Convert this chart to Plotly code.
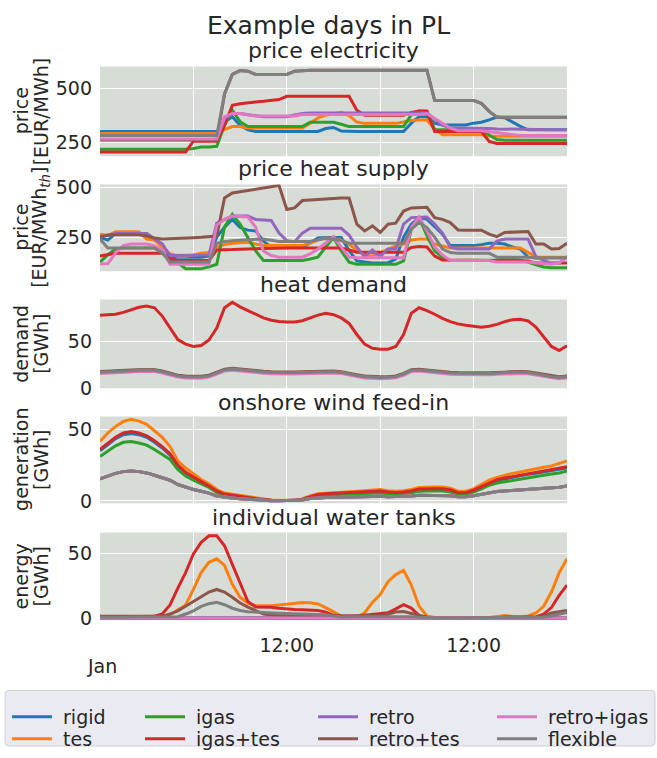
import pandas as pd
import plotly.graph_objects as go

# ---------------------------------------------------------------- time axis
hours = pd.date_range("2013-01-09 12:00", periods=61, freq="h")
noon_ticks = [hours[24], hours[48]]
noon_text = ["12:00", "12:00"]
midnight_ticks = [hours[12], hours[36]]

scenarios = ["rigid", "tes", "igas", "igas+tes", "retro", "retro+tes", "retro+igas", "flexible"]
colors = ["#1f77b4", "#ff7f0e", "#2ca02c", "#d62728", "#9467bd", "#8c564b", "#e377c2", "#7f7f7f"]

# ---------------------------------------------------------------- price electricity [EUR/MWh]
elec_rigid = [301]*16 + [345, 370, 330, 309] + [301]*9 + [315, 320, 303] + [301]*8 + [340, 370, 370, 340, 331, 331, 331, 331, 340, 344, 355, 368, 365, 345, 325, 309, 309, 309, 309, 309, 309]
elec_tes = [292]*16 + [310, 324, 324, 317] + [317]*7 + [340, 365, 377, 385, 390, 375, 345, 339, 339, 339, 339, 339, 345, 352, 355, 355, 310, 286, 286, 286, 286, 286, 286, 280, 279, 279, 279, 279, 279, 279, 279, 279, 279, 279]
elec_igas = [218]*12 + [222, 229, 229, 232, 330, 400, 347, 324] + [324]*7 + [344, 344, 344, 344, 335] + [324]*8 + [380, 397, 397, 309, 309, 309, 309, 309, 309, 309, 285, 264, 260, 260, 260, 260, 260, 260, 260, 260, 260]
elec_igas_tes = [206]*12 + [256, 256, 256, 256, 330, 423, 430, 436, 439, 442, 445, 450] + [465]*9 + [400, 377, 377, 377, 377, 377, 377, 390, 397, 395, 301, 301, 301, 301, 301, 301, 301, 255, 245, 245, 245, 245, 245, 245, 245, 245, 245, 245]
elec_retro = [264]*16 + [360, 385, 385, 380, 373, 370, 370, 370, 370, 378, 385] + [387]*16 + [360, 330, 317, 317, 317, 317, 317, 315, 313, 312, 311, 310, 309, 309, 309, 309, 309, 309]
elec_retro_tes = [262]*16 + [476, 567, 585, 582, 567, 567, 567, 567, 567, 582, 586] + [587]*16 + [445]*6 + [432, 395, 368, 367, 367, 367, 367, 367, 367, 367, 367, 367]
elec_retro_igas = [266]*16 + [370, 385, 385, 378, 373, 373, 373, 373, 373, 373, 380] + [380]*15 + [385, 360, 339, 317, 305, 305, 305, 305, 300, 295, 290, 286, 283, 282, 282, 282, 282, 282, 282]
elec_flexible = [282]*16 + [476, 567, 585, 582, 567, 567, 567, 567, 567, 582, 586] + [587]*16 + [445]*6 + [432, 395, 368, 367, 367, 367, 367, 367, 367, 367, 367, 367]

# ---------------------------------------------------------------- price heat supply [EUR/MWh_th]
heat_rigid = [248, 235, 268, 268, 268, 268, 268, 240, 215, 149, 149, 149, 149, 149, 155, 250, 300, 339, 298, 285, 281, 230, 199, 199, 199, 199, 199, 220, 245, 248, 248, 248, 182, 130, 124, 120, 120, 120, 140, 250, 315, 348, 340, 300, 265, 207, 207, 207, 207, 212, 219, 219, 215, 200, 190, 149, 146, 146, 146, 146, 146]
heat_tes = [265, 258, 277, 277, 277, 277, 240, 235, 200, 166, 154, 154, 160, 169, 172, 200, 212, 219, 222, 224, 215, 207, 207, 207, 207, 207, 207, 220, 235, 245, 243, 235, 215, 182, 160, 154, 172, 190, 205, 215, 235, 240, 240, 215, 205, 195, 195, 195, 195, 195, 195, 195, 195, 195, 195, 174, 149, 149, 149, 149, 149]
heat_igas = [124, 160, 190, 195, 195, 195, 195, 195, 170, 137, 120, 91, 91, 91, 100, 113, 300, 364, 315, 250, 180, 132, 132, 132, 132, 132, 132, 140, 149, 200, 248, 180, 124, 113, 113, 113, 113, 113, 113, 130, 290, 348, 257, 180, 149, 132, 132, 132, 132, 132, 132, 135, 138, 141, 133, 124, 110, 99, 96, 96, 96]
heat_igas_tes = [154, 162, 168, 168, 168, 168, 168, 168, 168, 140, 132, 132, 132, 132, 132, 185, 185, 187, 189, 190, 192, 195, 195, 195, 195, 195, 195, 195, 195, 195, 195, 195, 185, 174, 174, 174, 174, 174, 174, 174, 198, 202, 200, 154, 135, 133, 133, 133, 133, 133, 133, 133, 133, 133, 133, 130, 119, 119, 119, 119, 119]
heat_retro = [252, 258, 268, 268, 268, 268, 268, 240, 215, 157, 157, 157, 157, 157, 160, 320, 339, 356, 356, 356, 339, 336, 334, 270, 232, 227, 270, 294, 294, 294, 294, 294, 260, 199, 152, 185, 152, 190, 190, 315, 348, 350, 351, 315, 270, 199, 190, 190, 190, 190, 190, 230, 240, 240, 240, 240, 152, 135, 116, 120, 152]
heat_retro_tes = [252, 260, 262, 262, 262, 262, 255, 245, 240, 241, 243, 245, 247, 249, 252, 255, 447, 472, 478, 485, 492, 498, 504, 510, 389, 397, 434, 437, 440, 443, 445, 447, 447, 315, 281, 306, 273, 315, 320, 381, 397, 400, 400, 348, 339, 323, 286, 285, 285, 285, 265, 252, 273, 275, 277, 278, 215, 215, 190, 192, 219]
heat_retro_igas = [116, 116, 170, 207, 215, 215, 215, 205, 185, 113, 113, 113, 113, 113, 113, 310, 339, 356, 354, 351, 300, 180, 157, 149, 149, 149, 149, 165, 190, 220, 252, 199, 149, 146, 146, 146, 146, 146, 146, 146, 300, 351, 281, 200, 160, 132, 132, 132, 132, 132, 132, 125, 125, 125, 125, 125, 120, 117, 113, 120, 149]
heat_flexible = [240, 195, 195, 195, 195, 195, 195, 195, 170, 124, 124, 124, 124, 124, 124, 219, 228, 232, 235, 237, 239, 240, 235, 228, 228, 228, 228, 228, 236, 243, 240, 232, 219, 219, 219, 219, 219, 219, 219, 219, 290, 323, 298, 250, 190, 172, 169, 169, 169, 169, 169, 149, 149, 149, 149, 149, 144, 146, 146, 146, 146]

# ---------------------------------------------------------------- heat demand [GWh]
demand_igas_tes = [78.8, 79, 80, 82, 85, 87.5, 88.8, 87, 78, 65, 52.5, 47.5, 45, 46, 52, 65, 87, 93, 88, 84, 80, 76, 73.5, 72, 71.5, 71.5, 73, 76, 79, 81, 79.5, 76, 70, 58, 47.5, 43, 42, 42, 45, 58, 81, 87, 84, 80, 75.5, 72, 69.5, 68, 67, 66, 67, 69, 72, 74, 74.5, 72.7, 66, 56, 45, 40.5, 45.7]
demand_other = [17, 17.2, 17.5, 18, 18.5, 19, 19.2, 19, 17.5, 15, 13, 12, 11.5, 11.8, 13, 16, 19.5, 20.5, 19.5, 18.5, 17.8, 17.2, 16.6, 16.3, 16.2, 16.3, 16.6, 17, 17.4, 17.6, 17.4, 16.8, 15.5, 13.5, 12, 11.4, 11.3, 11.4, 12.2, 15, 19, 19.5, 18.6, 17.6, 16.8, 16.2, 15.8, 15.6, 15.4, 15.3, 15.5, 16, 16.6, 17, 17, 16.6, 15.2, 13.5, 12, 11.3, 12]
demand_retro_tes = [17.8, 18, 18.3, 18.8, 19.3, 19.8, 20, 19.8, 18.3, 15.8, 13.8, 12.8, 12.3, 12.6, 13.8, 16.8, 20.3, 21.3, 20.3, 19.3, 18.6, 18, 17.4, 17.1, 17, 17.1, 17.4, 17.8, 18.2, 18.4, 18.2, 17.6, 16.3, 14.3, 12.8, 12.2, 12.1, 12.2, 13, 15.8, 19.8, 20.3, 19.4, 18.4, 17.6, 17, 16.6, 16.4, 16.2, 16.1, 16.3, 16.8, 17.4, 17.8, 17.8, 17.4, 16, 14.3, 12.8, 12.1, 12.8]
demand_retro_igas = [15.7, 15.9, 16.2, 16.7, 17.2, 17.7, 17.9, 17.7, 16.2, 13.7, 11.7, 10.7, 10.2, 10.5, 11.7, 14.7, 18.2, 19.2, 18.2, 17.2, 16.5, 15.9, 15.3, 15, 14.9, 15, 15.3, 15.7, 16.1, 16.3, 16.1, 15.5, 14.2, 12.2, 10.7, 10.1, 10, 10.1, 10.9, 13.7, 17.7, 18.2, 17.3, 16.3, 15.5, 14.9, 14.5, 14.3, 14.1, 14, 14.2, 14.7, 15.3, 15.7, 15.7, 15.3, 13.9, 12.2, 10.7, 10, 10.7]

# ---------------------------------------------------------------- onshore wind feed-in [GWh]
wind_rigid = [35, 39.5, 43.5, 46.3, 47.2, 46.3, 44.5, 41, 37, 32, 24.5, 19.5, 16, 13, 10, 6.8, 4.6, 4, 3.1, 2.4, 1.4, 0.8, 0.5, 0.4, 0.4, 0.4, 1.1, 2.9, 4.3, 4.8, 5.1, 5.3, 5.6, 5.8, 6.1, 6.6, 6.8, 6.1, 5.8, 6.1, 6.8, 8, 8.3, 8.3, 8.3, 7.5, 5.6, 5.6, 7.2, 9.6, 12.3, 14.3, 15.5, 16.5, 17.4, 18.6, 19.3, 20.2, 21.2, 22, 23]
wind_tes = [41.6, 47.5, 52, 55.5, 57, 55.8, 53.5, 49, 44.5, 38, 28, 23, 19, 15, 12, 8, 5.5, 4.7, 3.8, 3, 2, 1.2, 0.7, 0.5, 0.5, 0.5, 1.4, 3.5, 5, 5.5, 5.9, 6.2, 6.5, 6.8, 7.2, 7.8, 8, 7.2, 6.8, 7.2, 8, 9.5, 9.8, 9.8, 9.8, 9, 6.8, 6.8, 8.5, 11.5, 14.5, 16.5, 18, 19.2, 20.3, 21.5, 22.5, 23.5, 24.5, 26.5, 28]
wind_igas = [31, 35, 38.5, 41, 41.5, 40.5, 39, 36, 32.5, 29, 22, 17.5, 14.5, 12, 9.5, 6, 4.2, 3.6, 2.8, 2, 1.3, 0.7, 0.4, 0.3, 0.3, 0.3, 1, 2.8, 4, 4.3, 4.5, 4.7, 4.9, 5, 5.2, 5.5, 5.5, 5.1, 5, 5.2, 5.8, 6.8, 7, 7, 7, 6.3, 4.8, 4.8, 6.3, 8.5, 11, 12.5, 13.5, 14.5, 15.3, 16.3, 17, 18, 18.8, 19.5, 21]
wind_igas_tes = [36, 40.5, 44.5, 47.5, 48.5, 47.5, 45.5, 42, 38, 33, 25, 20, 16.5, 13.5, 10.5, 7, 4.8, 4.2, 3.2, 2.5, 1.5, 0.9, 0.5, 0.4, 0.4, 0.4, 1.2, 3, 4.5, 5, 5.3, 5.5, 5.8, 6, 6.3, 6.8, 7, 6.3, 6, 6.3, 7, 8.3, 8.6, 8.6, 8.6, 7.8, 5.8, 5.8, 7.5, 10, 12.8, 14.8, 16, 17, 18, 19.3, 20, 21, 22, 22.8, 24]
wind_other = [15.5, 17.5, 19.3, 20.5, 21, 20.5, 19.6, 18, 16.5, 14.5, 11.5, 9.5, 8, 6.8, 5.5, 3.5, 2.5, 2, 1.6, 1.2, 0.8, 0.4, 0.2, 0.2, 0.2, 0.2, 0.7, 1.7, 2.2, 2.4, 2.5, 2.7, 2.8, 3, 3.1, 3.2, 3.3, 3, 3, 3.1, 3.4, 4, 4, 4, 4, 3.7, 3, 3, 3.7, 4.8, 6, 6.6, 7, 7.3, 7.6, 8, 8.3, 8.6, 9, 9.6, 10.5]

# ---------------------------------------------------------------- individual water tanks [GWh]
tank_none = [0]*61
tank_tes = [0.5]*9 + [2.5, 6, 10, 22, 35, 43, 45.7, 40.6, 26, 16, 11.5, 9.4, 9.4, 9.4, 10, 10.7, 11.3, 12, 11.8, 10.8, 8, 4.5, 1.5, 0.6, 0.5, 4, 12, 18, 28, 33.5, 36.8, 25.4, 9, 1.5, 0.3, 0.3, 0.3, 0.3, 0.3, 0.3, 0.3, 0.3, 1.2, 1.8, 1.2, 0.8, 1.5, 3.8, 9, 20, 35, 45.7]
tank_igas_tes = [1.3]*8 + [3, 10, 23, 35, 49.5, 58.4, 63.5, 63.5, 55.8, 41, 26, 12.7, 8.4, 8.3, 8.2, 7.5, 6.9, 6.6, 6.4, 6.3, 5.8, 4.5, 2, 1.5, 1.3, 1.3, 2, 2.8, 3.3, 4, 7, 10.2, 7.6, 1.8, 0.5, 0.2, 0.2, 0.2, 0.2, 0.2, 0.2, 0.2, 0.2, 0.2, 0.8, 0.8, 0.8, 0.8, 0.8, 3, 8, 17.5, 25.4]
tank_retro_tes = [0.8]*8 + [1.2, 3, 5.5, 9, 12.7, 16.5, 20, 22, 20, 16, 11.5, 8.4, 5.5, 3, 2.3, 1.8, 1.3, 1.3, 1.3, 1.3, 1.3, 1.3, 1.3, 1.3, 1.3, 1.3, 1.3, 1.5, 1.8, 3, 4.5, 5, 3.5, 1.8, 0.5, 0.3, 0.3, 0.3, 0.3, 0.3, 0.3, 0.3, 0.3, 0.3, 0.3, 0.3, 0.3, 0.3, 0.3, 1.5, 3.8, 4.8, 5.8]
tank_flexible = [0.5]*10 + [1, 3, 5.5, 8.9, 11, 12, 10.2, 7.5, 5.8, 4.8, 4.4, 4.2, 3.9, 3.6, 3.4, 3.3, 3, 2.8, 2.6, 2.4, 1.5, 0.8, 0.9, 0.9, 0.9, 0.9, 0.9, 0.9, 0.9, 1.3, 1, 0.5, 0, 0, 0, 0, 0, 0, 0, 0, 0, 0, 0, 0, 0, 0, 0, 0.5, 1.5, 3, 4.3]

panels = [
    dict(title="price electricity", ylabel=("price", "[EUR/MWh]"), yrange=[186, 604], yticks=[250, 500],
         data=[elec_rigid, elec_tes, elec_igas, elec_igas_tes, elec_retro, elec_retro_tes, elec_retro_igas, elec_flexible]),
    dict(title="price heat supply", ylabel=("price", "[EUR/MWh<sub><i>th</i></sub>]"), yrange=[78, 515], yticks=[250, 500],
         data=[heat_rigid, heat_tes, heat_igas, heat_igas_tes, heat_retro, heat_retro_tes, heat_retro_igas, heat_flexible]),
    dict(title="heat demand", ylabel=("demand", "[GWh]"), yrange=[-0.4, 96], yticks=[0, 50],
         data=[demand_other, demand_other, demand_other, demand_igas_tes, demand_other, demand_retro_tes, demand_retro_igas, demand_other]),
    dict(title="onshore wind feed-in", ylabel=("generation", "[GWh]"), yrange=[-1.6, 59], yticks=[0, 50],
         data=[wind_rigid, wind_tes, wind_igas, wind_igas_tes, wind_other, wind_other, wind_other, wind_other]),
    dict(title="individual water tanks", ylabel=("energy", "[GWh]"), yrange=[-1.8, 66], yticks=[0, 50],
         data=[tank_none, tank_tes, tank_none, tank_igas_tes, tank_none, tank_retro_tes, tank_none, tank_flexible]),
]

# ---------------------------------------------------------------- geometry (pixels)
W, H = 657, 758
FONT = "DejaVu Sans"
INK = "#262626"
panel_px = [(60, 152), (181, 270), (299, 390), (419, 508), (538, 628)]
x_px = (100, 567)
title_px = [44, 165, 284, 405, 523]
ylabel_x = (21, 41)


def fx(x):
    return x / W


def fy(y):
    return 1 - y / H


fig = go.Figure()
legend_names = ["legend", "legend2", "legend3", "legend4", "legend5", "legend6", "legend7", "legend8"]

for p, panel in enumerate(panels):
    ax = "" if p == 0 else str(p + 1)
    for i, name in enumerate(scenarios):
        fig.add_trace(go.Scatter(
            x=hours, y=panel["data"][i], mode="lines", name="\u00a0" + name,
            line=dict(color=colors[i], width=3),
            xaxis="x" + ax, yaxis="y" + ax,
            showlegend=(p == 0), legend=legend_names[i],
            hoverinfo="skip",
        ))
    top, bot = panel_px[p]
    fig.layout["xaxis" + ax] = dict(
        domain=[fx(x_px[0]), fx(x_px[1])], anchor="y" + ax,
        range=[hours[0], hours[-1]], tickmode="array", tickvals=noon_ticks,
        ticktext=noon_text, showticklabels=(p == 4), ticks="",
        showgrid=True, gridcolor="white", gridwidth=1.3, zeroline=False, showline=False,
        minor=dict(tickmode="array", tickvals=midnight_ticks, showgrid=True,
                   gridcolor="white", gridwidth=1.3, ticks=""),
        tickfont=dict(size=19, color=INK, family=FONT), ticklabelstandoff=12,
    )
    fig.layout["yaxis" + ax] = dict(
        domain=[fy(bot), fy(top)], anchor="x" + ax, range=panel["yrange"],
        tickmode="array", tickvals=panel["yticks"], ticks="",
        showgrid=True, gridcolor="white", gridwidth=1.3, zeroline=False, showline=False,
        tickfont=dict(size=19, color=INK, family=FONT), ticklabelstandoff=7,
    )
    fig.add_annotation(text=panel["title"], x=fx((x_px[0] + x_px[1]) / 2), y=fy(title_px[p]),
                       xref="paper", yref="paper", xanchor="center", yanchor="middle",
                       showarrow=False, font=dict(size=22, color=INK, family=FONT))
    for line_text, lx in zip(panel["ylabel"], ylabel_x):
        fig.add_annotation(text=line_text, x=fx(lx), y=fy((top + bot) / 2),
                           xref="paper", yref="paper", xanchor="center", yanchor="middle",
                           textangle=-90, showarrow=False,
                           font=dict(size=19, color=INK, family=FONT))

fig.add_annotation(text="Example days in PL", x=fx(328.5), y=fy(18), xref="paper", yref="paper",
                   xanchor="center", yanchor="middle", showarrow=False,
                   font=dict(size=25, color=INK, family=FONT))
fig.add_annotation(text="Jan", x=hours[0], y=fy(675), xref="x5", yref="paper",
                   xanchor="center", yanchor="middle", xshift=2, showarrow=False,
                   font=dict(size=19, color=INK, family=FONT))

# legend frame (rounded corners) shared by the legend entries
bx0, bx1, by0, by1, r = 5, 655, 700, 757, 4
frame = (f"M {fx(bx0 + r)},{fy(by0)} L {fx(bx1 - r)},{fy(by0)} Q {fx(bx1)},{fy(by0)} {fx(bx1)},{fy(by0 + r)} "
         f"L {fx(bx1)},{fy(by1 - r)} Q {fx(bx1)},{fy(by1)} {fx(bx1 - r)},{fy(by1)} "
         f"L {fx(bx0 + r)},{fy(by1)} Q {fx(bx0)},{fy(by1)} {fx(bx0)},{fy(by1 - r)} "
         f"L {fx(bx0)},{fy(by0 + r)} Q {fx(bx0)},{fy(by0)} {fx(bx0 + r)},{fy(by0)} Z")
fig.add_shape(type="path", xref="paper", yref="paper", path=frame,
              fillcolor="#eaeaf2", line=dict(color="#cfcfd6", width=1), layer="below")

legend_cols = [7, 140, 313, 492]
legend_rows = [727, 750]
layout_legends = {}
for k, lname in enumerate(legend_names):
    layout_legends[lname] = dict(
        x=fx(legend_cols[k // 2]), y=fy(legend_rows[k % 2]), xanchor="left", yanchor="middle",
        orientation="v", bgcolor="rgba(0,0,0,0)", borderwidth=0,
        font=dict(size=19, color=INK, family=FONT), itemwidth=40,
    )

fig.update_layout(
    width=W, height=H, margin=dict(l=0, r=0, t=0, b=0),
    paper_bgcolor="white", plot_bgcolor="#d8dcd6",
    font=dict(family=FONT, color=INK),
    **layout_legends,
)

fig.write_html("out.html")
